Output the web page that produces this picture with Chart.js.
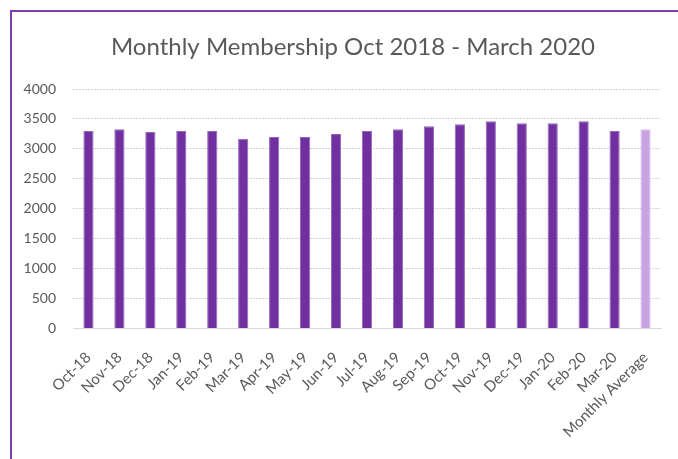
<!DOCTYPE html>
<html>
<head>
<meta charset="utf-8">
<script src="https://cdn.jsdelivr.net/npm/chart.js"></script>
<style>
    html, body { margin: 0; padding: 0; background: #fff; }
    .container { position: relative; width: 678px; height: 459px; overflow: hidden; }
    .frame {
        position: absolute; left: 10px; top: 10px; width: 720px; height: 520px;
        border-top: 2px solid #7b3db0; border-left: 2px solid #7b3db0;
    }
    #myChart { position: absolute; left: 0; top: 0; }
</style>
</head>
<body>
<div class="container">
    <div class="frame"></div>
    <canvas id="myChart" width="678" height="459"></canvas>
</div>
<script>
const chartTitle = 'Monthly Membership Oct 2018 - March 2020';
const months = ['Oct-18', 'Nov-18', 'Dec-18', 'Jan-19', 'Feb-19', 'Mar-19', 'Apr-19', 'May-19', 'Jun-19',
    'Jul-19', 'Aug-19', 'Sep-19', 'Oct-19', 'Nov-19', 'Dec-19', 'Jan-20', 'Feb-20', 'Mar-20', 'Monthly Average'];
const members = [3300, 3330, 3280, 3300, 3300, 3170, 3200, 3200, 3250,
    3300, 3330, 3380, 3410, 3460, 3430, 3430, 3460, 3300, 3330];
const yTicks = [0, 500, 1000, 1500, 2000, 2500, 3000, 3500, 4000];

const barColor = '#7030a0';
const avgColor = '#c9a2e2';
const textColor = '#595959';
const font = 'Lato, "Open Sans", sans-serif';

// title drawn by hand so it can sit a bit right of the canvas centre, like the original
const titlePlugin = {
    id: 'manualTitle',
    afterDraw(chart) {
        const c = chart.ctx;
        c.save();
        c.fillStyle = textColor;
        c.font = '24px ' + font;
        c.textAlign = 'center';
        c.textBaseline = 'middle';
        c.fillText(chartTitle, 353, 47);
        c.restore();
    }
};

const ctx = document.getElementById('myChart');

new Chart(ctx, {
    type: 'bar',
    data: {
        labels: months,
        datasets: [{
            label: 'Membership',
            data: members,
            backgroundColor: months.map((m, i) => i === months.length - 1 ? avgColor : barColor),
            borderColor: months.map((m, i) => i === months.length - 1 ? '#d9c0ec' : '#9466bd'),
            borderWidth: 1,
            borderSkipped: 'bottom',
            barPercentage: 0.33,
            categoryPercentage: 1
        }]
    },
    options: {
        responsive: false,
        animation: false,
        layout: {
            padding: { top: 89, left: 23, right: 17, bottom: 6 }
        },
        scales: {
            x: {
                grid: { display: false },
                border: { display: true, color: '#d9d9d9' },
                ticks: {
                    color: textColor,
                    font: { family: font, size: 15 },
                    minRotation: 45,
                    maxRotation: 45,
                    autoSkip: false,
                    padding: 12
                },
                // let the first rotated label hang into the y-axis area
                afterFit: scale => { scale.paddingLeft = 0; scale.paddingRight = 0; }
            },
            y: {
                min: 0,
                max: 4000,
                afterBuildTicks: axis => { axis.ticks = yTicks.map(v => ({ value: v })); },
                afterFit: scale => { scale.width = 50; },
                grid: {
                    color: '#d4d4d4',
                    lineWidth: 1,
                    drawTicks: false
                },
                border: { display: false, dash: [2, 1] },
                ticks: {
                    color: textColor,
                    font: { family: font, size: 14 },
                    padding: 17,
                    callback: v => String(v)
                }
            }
        },
        plugins: {
            legend: { display: false },
            tooltip: { enabled: false },
            title: { display: false }
        }
    },
    plugins: [titlePlugin]
});
</script>
</body>
</html>
